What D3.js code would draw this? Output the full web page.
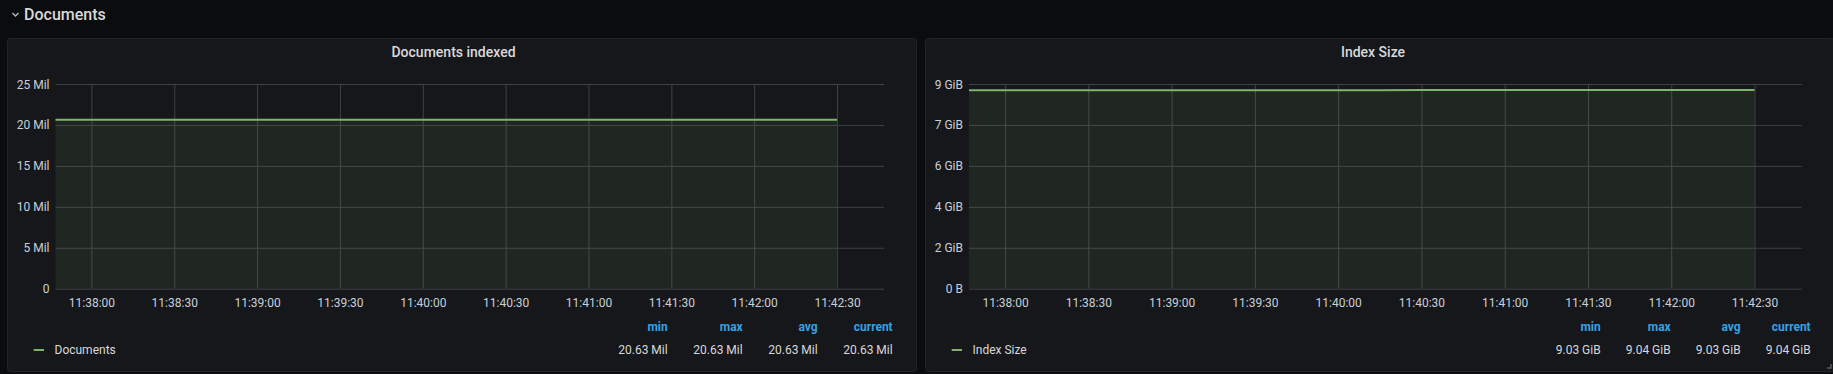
<!DOCTYPE html>
<html>
<head>
<meta charset="utf-8">
<script src="https://cdn.jsdelivr.net/npm/d3@7"></script>
<style>
  html, body { margin: 0; padding: 0; background: #0b0c0e; overflow: hidden; }
  text { font-family: Roboto, "Noto Sans", sans-serif; }
</style>
</head>
<body>
<div id="dash"></div>
<script>
// time range shown on both panels
const timeStart = "11:37:47", timeEnd = "11:42:47";
const timeTicks = ["11:38:00", "11:38:30", "11:39:00", "11:39:30", "11:40:00",
                   "11:40:30", "11:41:00", "11:41:30", "11:42:00", "11:42:30"];
const sampleTimes = ["11:37:45", "11:38:00", "11:38:15", "11:38:30", "11:38:45",
                     "11:39:00", "11:39:15", "11:39:30", "11:39:45", "11:40:00",
                     "11:40:15", "11:40:30", "11:40:45", "11:41:00", "11:41:15",
                     "11:41:30", "11:41:45", "11:42:00", "11:42:15", "11:42:30"];

// Documents indexed
const docCounts = [20627500, 20627900, 20628300, 20628600, 20629000, 20629400, 20629800,
                   20630100, 20630500, 20630900, 20631300, 20631600, 20632000, 20632400,
                   20632700, 20633100, 20633500, 20633800, 20634200, 20634500];
const docTicks = [0, 5e6, 10e6, 15e6, 20e6, 25e6];

// Index size (GiB)
const indexSizeGiB = [9.030, 9.031, 9.031, 9.032, 9.032, 9.033, 9.033, 9.033, 9.034, 9.034,
                      9.034, 9.035, 9.035, 9.036, 9.036, 9.036, 9.037, 9.037, 9.038, 9.038];
const indexTicksBytes = [0, 2e9, 4e9, 6e9, 8e9, 10e9];

const statNames = ["min", "max", "avg", "current"];

const GiB = Math.pow(2, 30);
const parseTime = d3.timeParse("%H:%M:%S");
const fmtTime = d3.timeFormat("%H:%M:%S");

const width = 1833, height = 374;
const panelTop = 38, panelHeight = 333;
const plotTop = 84, plotBottom = 288.7;
const lineColor = "#7eb26d";

const svg = d3.select("#dash")
    .append("svg")
    .attr("width", width)
    .attr("height", height);

svg.append("rect")
    .attr("width", width)
    .attr("height", height)
    .attr("fill", "#0b0c0e");

// row header
svg.append("path")
    .attr("d", "M12.5,13 L15.5,16 L18.5,13")
    .attr("fill", "none")
    .attr("stroke", "#b7bcc4")
    .attr("stroke-width", 1.3);
svg.append("text")
    .attr("x", 24)
    .attr("y", 14.7)
    .attr("dominant-baseline", "central")
    .style("font-size", "16px")
    .style("font-weight", 500)
    .attr("fill", "#d8d9da")
    .text("Documents");

function drawPanel(cfg) {
    const g = svg.append("g");
    g.append("rect")
        .attr("x", cfg.x + 0.5)
        .attr("y", panelTop + 0.5)
        .attr("width", cfg.w)
        .attr("height", panelHeight)
        .attr("rx", 3)
        .attr("fill", "#16171a")
        .attr("stroke", "#222428");

    // title
    g.append("text")
        .attr("x", cfg.titleX)
        .attr("y", 52)
        .attr("text-anchor", "middle")
        .attr("dominant-baseline", "central")
        .style("font-size", "14px")
        .style("font-weight", 500)
        .attr("fill", "#d8d9da")
        .text(cfg.title);

    const x = d3.scaleTime()
        .domain([parseTime(timeStart), parseTime(timeEnd)])
        .range([cfg.plotLeft, cfg.plotRight]);
    const y = d3.scaleLinear()
        .domain(cfg.yDomain)
        .range([plotBottom, plotTop]);

    const clipId = "clip-" + cfg.id;
    g.append("clipPath").attr("id", clipId)
        .append("rect")
        .attr("x", cfg.plotLeft)
        .attr("y", plotTop - 5)
        .attr("width", cfg.plotRight - cfg.plotLeft)
        .attr("height", plotBottom - plotTop + 5);

    // grid
    g.append("g")
        .attr("transform", `translate(${cfg.plotLeft},0)`)
        .call(d3.axisLeft(y).tickValues(cfg.yTicks).tickSize(-(cfg.plotRight - cfg.plotLeft)).tickFormat(""))
        .call(a => a.select(".domain").remove())
        .selectAll("line").attr("stroke", "#3f4043");
    g.append("g")
        .attr("transform", `translate(0,${plotBottom})`)
        .call(d3.axisBottom(x).tickValues(timeTicks.map(parseTime)).tickSize(-(plotBottom - plotTop)).tickFormat(""))
        .call(a => a.select(".domain").remove())
        .selectAll("line").attr("stroke", "#3f4043");

    const data = sampleTimes.map((t, i) => ({t: parseTime(t), v: cfg.values[i]}));

    const plot = g.append("g").attr("clip-path", `url(#${clipId})`);
    plot.append("path")
        .datum(data)
        .attr("fill", lineColor)
        .attr("fill-opacity", 0.1)
        .attr("d", d3.area().x(d => x(d.t)).y0(plotBottom).y1(d => y(d.v)));
    plot.append("path")
        .datum(data)
        .attr("fill", "none")
        .attr("stroke", lineColor)
        .attr("stroke-width", 2)
        .attr("d", d3.line().x(d => x(d.t)).y(d => y(d.v)));

    // y tick labels
    g.append("g")
        .attr("transform", `translate(${cfg.plotLeft},0)`)
        .call(d3.axisLeft(y).tickValues(cfg.yTicks).tickSize(0).tickPadding(6).tickFormat(cfg.yFormat))
        .call(a => a.select(".domain").remove())
        .selectAll("text")
        .attr("dy", null)
        .attr("dominant-baseline", "central")
        .style("font-size", "12px")
        .attr("fill", "#c7d0d9");

    // x tick labels
    g.append("g")
        .attr("transform", `translate(0,${plotBottom})`)
        .call(d3.axisBottom(x).tickValues(timeTicks.map(parseTime)).tickSize(0).tickPadding(0).tickFormat(fmtTime))
        .call(a => a.select(".domain").remove())
        .selectAll("text")
        .attr("y", 18.6)
        .attr("dy", null)
        .style("font-size", "12px")
        .attr("fill", "#c7d0d9");

    // legend
    g.append("line")
        .attr("x1", cfg.x + 26.7)
        .attr("x2", cfg.x + 37)
        .attr("y1", 350)
        .attr("y2", 350)
        .attr("stroke", lineColor)
        .attr("stroke-width", 2);
    g.append("text")
        .attr("x", cfg.x + 47.5)
        .attr("y", 354)
        .style("font-size", "12px")
        .attr("fill", "#d8d9da")
        .text(cfg.legend);

    const stats = {
        min: d3.min(cfg.values),
        max: d3.max(cfg.values),
        avg: d3.mean(cfg.values),
        current: cfg.values[cfg.values.length - 1]
    };
    statNames.forEach((s, i) => {
        const sx = cfg.x + cfg.w - 23.3 - (statNames.length - 1 - i) * cfg.colW;
        g.append("text")
            .attr("x", sx)
            .attr("y", 331)
            .attr("text-anchor", "end")
            .style("font-size", "12px")
            .style("font-weight", "bold")
            .attr("fill", "#33a2e5")
            .text(s);
        g.append("text")
            .attr("x", sx)
            .attr("y", 353.5)
            .attr("text-anchor", "end")
            .style("font-size", "12px")
            .attr("fill", "#d8d9da")
            .text(cfg.statFormat(stats[s]));
    });
}

drawPanel({
    id: "docs", title: "Documents indexed", legend: "Documents",
    x: 7, w: 909, titleX: 453.5, plotLeft: 55.5, plotRight: 884, colW: 75,
    values: docCounts, yDomain: [0, 25e6], yTicks: docTicks,
    yFormat: v => v === 0 ? "0" : (v / 1e6) + " Mil",
    statFormat: v => (v / 1e6).toFixed(2) + " Mil"
});

drawPanel({
    id: "size", title: "Index Size", legend: "Index Size",
    x: 925, w: 909, titleX: 1373, plotLeft: 969, plotRight: 1801.7, colW: 70,
    values: indexSizeGiB.map(v => v * GiB), yDomain: [0, 10e9], yTicks: indexTicksBytes,
    yFormat: v => v === 0 ? "0 B" : Math.round(v / GiB) + " GiB",
    statFormat: v => (v / GiB).toFixed(2) + " GiB"
});

// resize handle
svg.append("path")
    .attr("d", "M1831,364 V368 H1827")
    .attr("fill", "none")
    .attr("stroke", "#5a5c60")
    .attr("stroke-width", 1.5);
</script>
</body>
</html>
